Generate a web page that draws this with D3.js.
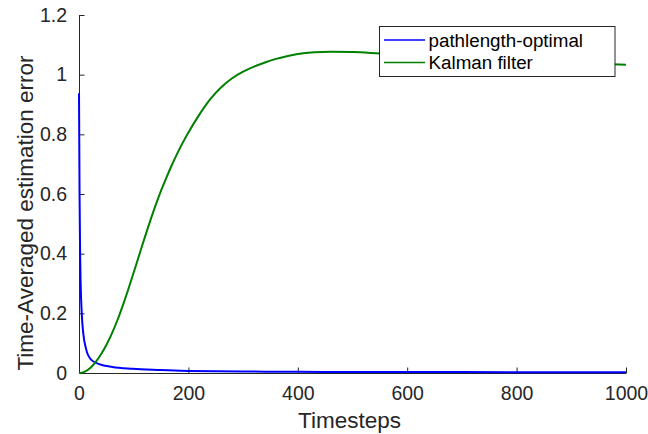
<!DOCTYPE html>
<html>
<head>
<meta charset="utf-8">
<script src="https://cdn.jsdelivr.net/npm/d3@7"></script>
<style>
  html, body { margin: 0; padding: 0; background: #fff; }
  svg { display: block; font-family: "Liberation Sans", Arial, sans-serif; }
</style>
</head>
<body>
<svg id="chart" width="648" height="434"></svg>
<script>
// ---- data ----
const seriesNames = ["pathlength-optimal", "Kalman filter"];
const seriesColors = ["#0000ff", "#008000"];

const pathTimes  = [0, 1, 2, 3, 5, 8, 13, 22, 37, 61, 98, 150, 200, 300, 400, 500, 700, 1000];
const pathValues = [0.938, 0.6, 0.4, 0.3, 0.2, 0.13, 0.08, 0.045, 0.03, 0.02, 0.014, 0.01, 0.0067, 0.005, 0.004, 0.0035, 0.003, 0.0025];

const kalmanTimes  = [0, 10, 20, 30, 40, 50, 60, 70, 80, 90, 100, 110, 120, 130, 140, 150, 160, 170, 180, 190, 200, 220, 240, 260, 280, 300, 320, 340, 360, 380, 400, 430, 460, 500, 550, 600, 700, 800, 900, 1000];
const kalmanValues = [0, 0.004, 0.016, 0.036, 0.062, 0.094, 0.132, 0.176, 0.226, 0.28, 0.337, 0.395, 0.453, 0.509, 0.562, 0.611, 0.656, 0.698, 0.737, 0.773, 0.806, 0.866, 0.918, 0.958, 0.988, 1.01, 1.027, 1.041, 1.053, 1.062, 1.069, 1.075, 1.077, 1.076, 1.071, 1.066, 1.056, 1.048, 1.04, 1.033];

const xTicks = [0, 200, 400, 600, 800, 1000];
const yTicks = [0, 0.2, 0.4, 0.6, 0.8, 1, 1.2];
const xLabel = "Timesteps";
const yLabel = "Time-Averaged estimation error";

// ---- layout ----
const svg = d3.select("#chart");
const plotL = 79, plotR = 626, plotT = 15, plotB = 373;
const axisColor = "#262626";

const x = d3.scaleLinear().domain([0, 1000]).range([plotL, plotR]);
const y = d3.scaleLinear().domain([0, 1.2]).range([plotB, plotT]);

// axes
const xAxis = d3.axisBottom(x).tickValues(xTicks).tickSizeInner(-5.5).tickSizeOuter(0).tickPadding(13).tickFormat(d3.format("d"));
const yAxis = d3.axisLeft(y).tickValues(yTicks).tickSizeInner(-5.5).tickSizeOuter(0).tickPadding(12).tickFormat(d => d === 0 ? "0" : (d === 1 ? "1" : d3.format(".1f")(d)));

const gx = svg.append("g").attr("transform", `translate(0,${plotB})`).call(xAxis);
const gy = svg.append("g").attr("transform", `translate(${plotL},0)`).call(yAxis);

[gx, gy].forEach(g => {
  g.select(".domain").attr("stroke", axisColor).attr("stroke-width", 1);
  g.selectAll(".tick line").attr("stroke", axisColor).attr("stroke-width", 1);
  g.selectAll(".tick text").attr("fill", axisColor).style("font-size", "19.5px").style("font-family", "'Liberation Sans', Arial, sans-serif");
});
gx.selectAll(".tick text").attr("dy", "0.71em");

// axis labels
svg.append("text")
  .attr("x", (plotL + plotR) / 2 - 3).attr("y", 428)
  .attr("text-anchor", "middle").attr("fill", axisColor)
  .style("font-size", "22.5px")
  .text(xLabel);

svg.append("text")
  .attr("transform", `translate(33,${213}) rotate(-90)`)
  .attr("text-anchor", "middle").attr("fill", axisColor)
  .style("font-size", "22.5px")
  .text(yLabel);

// lines
const line = d3.line().x(d => x(d[0])).y(d => y(d[1])).curve(d3.curveMonotoneX);
const pathData = pathTimes.map((t, i) => [t, pathValues[i]]);
const kalmanData = kalmanTimes.map((t, i) => [t, kalmanValues[i]]);

svg.append("path").datum(pathData).attr("d", line)
  .attr("fill", "none").attr("stroke", seriesColors[0]).attr("stroke-width", 2);
svg.append("path").datum(kalmanData).attr("d", line)
  .attr("fill", "none").attr("stroke", seriesColors[1]).attr("stroke-width", 2);

// legend
const lg = svg.append("g");
lg.append("rect").attr("x", 379.5).attr("y", 26.5).attr("width", 235.5).attr("height", 50)
  .attr("fill", "#fff").attr("stroke", axisColor).attr("stroke-width", 1);
const rowY = [40, 62.5];
seriesNames.forEach((name, i) => {
  lg.append("line").attr("x1", 384).attr("x2", 425).attr("y1", rowY[i]).attr("y2", rowY[i])
    .attr("stroke", seriesColors[i]).attr("stroke-width", 1.5);
  lg.append("text").attr("x", 428.5).attr("y", rowY[i] + 6.6)
    .attr("fill", "#000").style("font-size", "18.8px").text(name);
});
</script>
</body>
</html>
